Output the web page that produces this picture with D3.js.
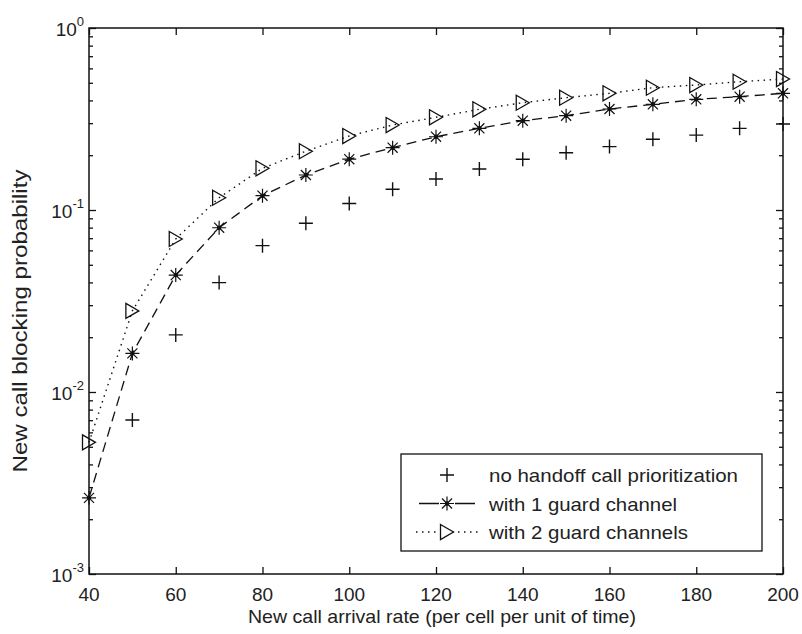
<!DOCTYPE html>
<html><head><meta charset="utf-8">
<script src="https://cdn.jsdelivr.net/npm/d3@7"></script>
<style>body{margin:0;background:#fff}svg{display:block}text{font-family:"Liberation Sans",Arial,sans-serif;fill:#222}</style>
</head><body>
<svg id="c" width="802" height="634"></svg>
<script>
const arrivalRates = [40,50,60,70,80,90,100,110,120,130,140,150,160,170,180,190,200];
const noPriority = [null,0.00702,0.0206,0.0399,0.0637,0.0845,0.1086,0.130,0.148,0.168,0.190,0.2065,0.223,0.2446,0.258,0.281,0.297];
const guard1 = [0.00262,0.0163,0.0439,0.0799,0.1198,0.1557,0.1902,0.220,0.2527,0.2812,0.3095,0.3297,0.3589,0.3809,0.4058,0.4194,0.4377];
const guard2 = [0.00529,0.0279,0.0693,0.1168,0.1695,0.2104,0.2550,0.2931,0.3231,0.3576,0.3886,0.4140,0.4377,0.4699,0.4861,0.5069,0.5245];
const xTicks = [40,60,80,100,120,140,160,180,200];
const yDecades = [-3,-2,-1,0];
const legendLabels = ["no handoff call prioritization","with 1 guard channel","with 2 guard channels"];

const svg = d3.select("#c");
const L=89, R=783, T=28, B=574;
const x = d3.scaleLinear().domain([40,200]).range([L,R]);
const y = d3.scaleLog().domain([1e-3,1]).range([B,T]);
const ink="#111";

const yMinor=[];
for(let e=-3;e<0;e++) for(let m=2;m<=9;m++) yMinor.push(m*Math.pow(10,e));
const axL = d3.axisLeft(y).tickValues(yMinor).tickSize(-4).tickFormat("");
const axR = d3.axisRight(y).tickValues(yMinor).tickSize(-4).tickFormat("");
const axLM = d3.axisLeft(y).tickValues(yDecades.map(e=>Math.pow(10,e))).tickSize(-7).tickFormat("");
const axRM = d3.axisRight(y).tickValues(yDecades.map(e=>Math.pow(10,e))).tickSize(-7).tickFormat("");
const axB = d3.axisBottom(x).tickValues(xTicks).tickSize(-7).tickFormat("");
const axT = d3.axisTop(x).tickValues(xTicks).tickSize(-7).tickFormat("");
[[axL,`translate(${L},0)`],[axR,`translate(${R},0)`],[axLM,`translate(${L},0)`],[axRM,`translate(${R},0)`],[axB,`translate(0,${B})`],[axT,`translate(0,${T})`]].forEach(([a,t])=>{
  const g=svg.append("g").attr("transform",t).call(a);
  g.select(".domain").remove();
  g.selectAll("line").attr("stroke",ink).attr("stroke-width",1.3);
});
svg.append("rect").attr("x",L).attr("y",T).attr("width",R-L).attr("height",B-T)
  .attr("fill","none").attr("stroke",ink).attr("stroke-width",1.5);

svg.append("g").selectAll("text").data(xTicks).join("text")
  .attr("x",d=>x(d)).attr("y",B+27).attr("text-anchor","middle").attr("font-size",19).text(d=>d);
const yl = svg.append("g").selectAll("text").data(yDecades).join("text")
  .attr("x",84).attr("y",d=>y(Math.pow(10,d))+8).attr("text-anchor","end").attr("font-size",19);
yl.append("tspan").text("10");
yl.append("tspan").attr("dy",-10).attr("font-size",13).text(d=>d===0?"0":"-"+(-d));

svg.append("text").attr("x",442).attr("y",623).attr("text-anchor","middle").attr("font-size",19)
  .attr("textLength",388).attr("lengthAdjust","spacingAndGlyphs").text("New call arrival rate (per cell per unit of time)");
svg.append("text").attr("transform","translate(27,321) rotate(-90)").attr("text-anchor","middle").attr("font-size",20)
  .attr("textLength",303).attr("lengthAdjust","spacingAndGlyphs").text("New call blocking probability");

function plusPath(s){return `M${-s},0H${s}M0,${-s}V${s}`;}
function starPath(s){const d=s*0.72;return `M${-s},0H${s}M0,${-s}V${s}M${-d},${-d}L${d},${d}M${-d},${d}L${d},${-d}`;}
function triPath(w,h){return `M${-w/2},${-h/2}L${w/2},0L${-w/2},${h/2}Z`;}

const line = d3.line().defined(d=>d[1]!=null).x(d=>x(d[0])).y(d=>y(d[1]));
const g1 = arrivalRates.map((r,i)=>[r,guard1[i]]);
const g2 = arrivalRates.map((r,i)=>[r,guard2[i]]);
const g0 = arrivalRates.map((r,i)=>[r,noPriority[i]]).filter(d=>d[1]!=null);

svg.append("path").attr("d",line(g2)).attr("fill","none").attr("stroke",ink).attr("stroke-width",1.4).attr("stroke-dasharray","1.5,4.5");
svg.append("path").attr("d",line(g1)).attr("fill","none").attr("stroke",ink).attr("stroke-width",1.3).attr("stroke-dasharray","10,6");

svg.append("g").selectAll("path").data(g0).join("path").attr("transform",d=>`translate(${x(d[0])},${y(d[1])})`)
  .attr("d",plusPath(7)).attr("stroke",ink).attr("stroke-width",1.4).attr("fill","none");
svg.append("g").selectAll("path").data(g1).join("path").attr("transform",d=>`translate(${x(d[0])},${y(d[1])})`)
  .attr("d",starPath(7)).attr("stroke",ink).attr("stroke-width",1.2).attr("fill","none");
svg.append("g").selectAll("circle").data(g1).join("circle").attr("cx",d=>x(d[0])).attr("cy",d=>y(d[1])).attr("r",2.2).attr("fill",ink);
svg.append("g").selectAll("path").data(g2).join("path").attr("transform",d=>`translate(${x(d[0])},${y(d[1])})`)
  .attr("d",triPath(13,15)).attr("stroke",ink).attr("stroke-width",1.3).attr("fill","none");

const lg = svg.append("g");
lg.append("rect").attr("x",401).attr("y",454).attr("width",361).attr("height",97).attr("fill","#fff").attr("stroke",ink).attr("stroke-width",1.3);
const rows=[475,503.5,532];
const lens=[249,188,199];
rows.forEach((ry,i)=>{
  lg.append("text").attr("x",489).attr("y",ry+7).attr("font-size",19)
    .attr("textLength",lens[i]).attr("lengthAdjust","spacingAndGlyphs").text(legendLabels[i]);
});
lg.append("path").attr("d",plusPath(7)).attr("transform",`translate(447,${rows[0]})`).attr("stroke",ink).attr("stroke-width",1.4);
lg.append("line").attr("x1",419).attr("x2",480).attr("y1",rows[1]).attr("y2",rows[1]).attr("stroke",ink).attr("stroke-width",1.3).attr("stroke-dasharray","20,16");
lg.append("path").attr("d",starPath(7)).attr("transform",`translate(447,${rows[1]})`).attr("stroke",ink).attr("stroke-width",1.2).attr("fill","none");
lg.append("circle").attr("cx",447).attr("cy",rows[1]).attr("r",2.2).attr("fill",ink);
lg.append("line").attr("x1",416).attr("x2",480).attr("y1",rows[2]).attr("y2",rows[2]).attr("stroke",ink).attr("stroke-width",1.4).attr("stroke-dasharray","1.5,4.5");
lg.append("path").attr("d",triPath(13,15)).attr("transform",`translate(447,${rows[2]})`).attr("stroke",ink).attr("stroke-width",1.3).attr("fill","#fff");
</script>
</body></html>
